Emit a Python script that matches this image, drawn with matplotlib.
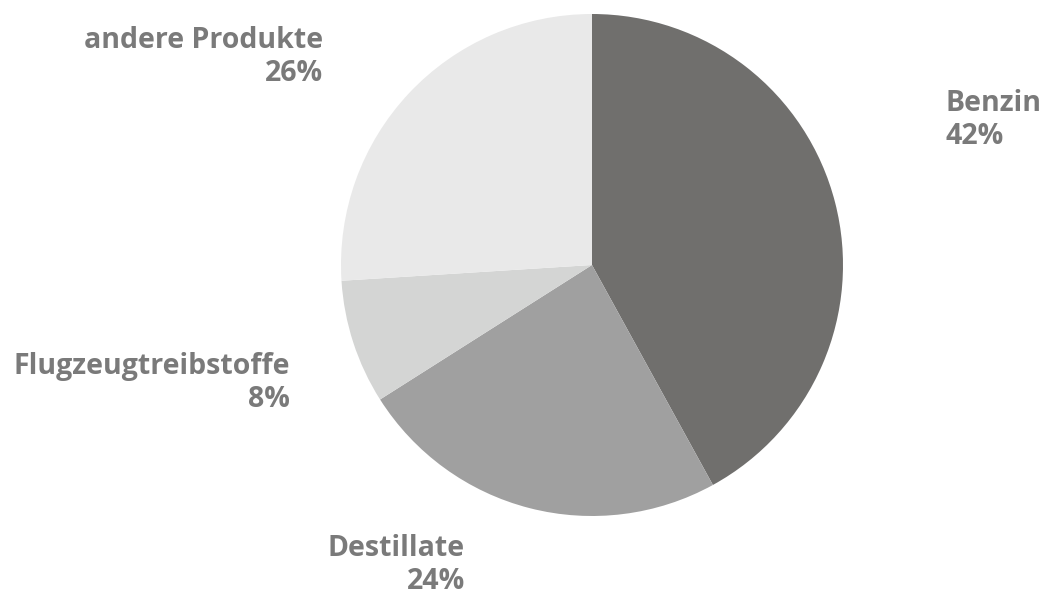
import matplotlib
matplotlib.use("Agg")
import matplotlib.pyplot as plt

plt.rcParams["font.family"] = ["Open Sans", "DejaVu Sans"]

# Anteile der Raffinerieprodukte
products = ["Benzin", "Destillate", "Flugzeugtreibstoffe", "andere Produkte"]
shares = [42, 24, 8, 26]
colors = ["#706f6d", "#a0a0a0", "#d4d5d4", "#e9e9e9"]

W, H = 1049, 597
CX, CY, R = 592, 265, 251   # Tortenmittelpunkt und Radius in Pixeln

fig = plt.figure(figsize=(W / 100, H / 100), dpi=100)
ax = fig.add_axes([(CX - R) / W, (H - CY - R) / H, 2 * R / W, 2 * R / H])
ax.pie(shares, colors=colors, startangle=90, counterclock=False,
       radius=1.0, wedgeprops=dict(linewidth=0))
ax.set_xlim(-1, 1)
ax.set_ylim(-1, 1)
ax.set_aspect("equal")

# Beschriftungspositionen (Pixel): x-Kante, y-Mitte, Ausrichtung
label_pos = [(945, 120, "left"), (465, 565, "right"),
             (290, 383, "right"), (323, 57, "right")]

for name, v, (px, py, ha) in zip(products, shares, label_pos):
    ax.text((px - CX) / R, (CY - py) / R, f"{name}\n{v}%",
            ha=ha, va="center", multialignment=ha,
            fontsize=20.5, fontweight="bold", color="#7a7a7a",
            linespacing=1.15, clip_on=False)

fig.savefig("out.png", dpi=100)
